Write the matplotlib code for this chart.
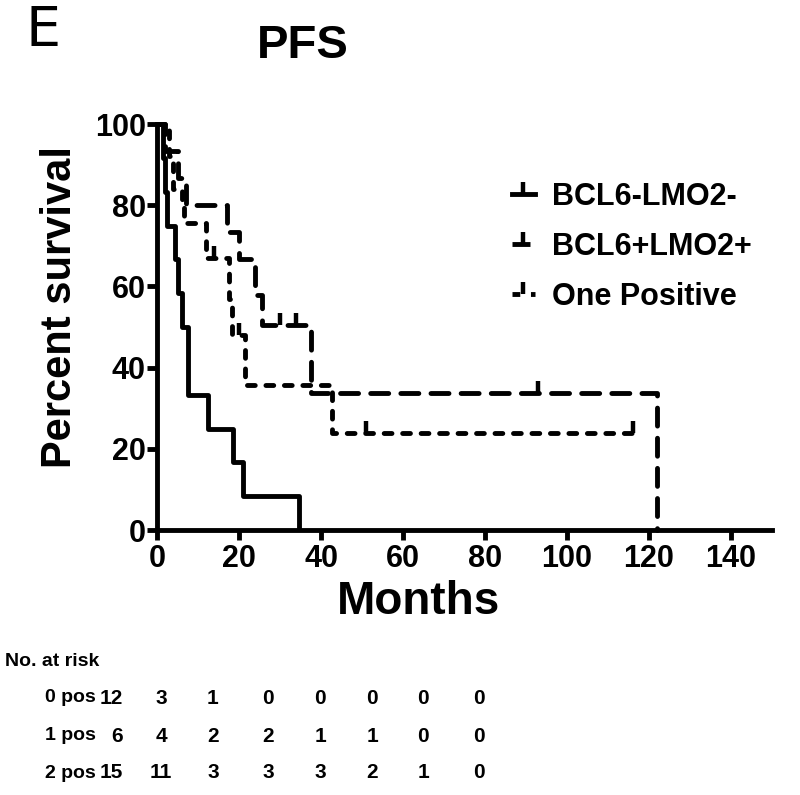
import matplotlib
matplotlib.use("Agg")
import matplotlib.pyplot as plt
from matplotlib.lines import Line2D

# ---------------- data ----------------
series_names = ["BCL6-LMO2-", "BCL6+LMO2+", "One Positive"]

# 0 positive (solid)
t_neg = [0, 1.5, 2, 2.5, 4.4, 5, 6.1, 7.5, 7.6, 12.5, 18.5, 21, 34.6]
s_neg = [100, 91.7, 83.3, 75, 66.7, 58.3, 50, 41.7, 33.3, 25, 16.7, 8.3, 0]

# 2 positive (long dash)
t_pos = [0, 2, 5, 7, 17, 20, 24, 25.5, 37.5, 122]
s_pos = [100, 93.3, 86.7, 80, 73.3, 66.7, 57.8, 50.5, 33.7, 0]
c_pos_t = [30, 34, 93]
c_pos_s = [50.5, 50.5, 33.7]

# one positive (short dash)
t_one = [0, 3, 3.8, 6, 6.5, 12, 17.5, 18.3, 21.5, 42.7, 116]
s_one = [100, 92, 84, 80, 75.6, 67, 57, 48, 35.7, 23.8, 23.8]
c_one_t = [14, 20, 51, 116]
c_one_s = [67, 48, 23.8, 23.8]

x_ticks = [0, 20, 40, 60, 80, 100, 120, 140]
y_ticks = [0, 20, 40, 60, 80, 100]

risk_rows = ["0 pos", "1 pos", "2 pos"]
risk_0 = [12, 3, 1, 0, 0, 0, 0, 0]
risk_1 = [6, 4, 2, 2, 1, 1, 0, 0]
risk_2 = [15, 11, 3, 3, 3, 2, 1, 0]

# ---------------- style ----------------
BOLD = ["Liberation Sans", "DejaVu Sans"]
LW = 3.5
LONG = (3.7, 2.5)
SHORT = (1.6, 2.2)

fig = plt.figure(figsize=(8, 7.95), dpi=100)
fig.patch.set_facecolor("white")
ax = fig.add_axes([157 / 800, 1 - 530 / 795, 615 / 800, (530 - 124) / 795])

def km(t, s, dashes):
    ln, = ax.step(t, s, where="post", color="black", lw=LW, clip_on=False,
                  solid_capstyle="butt", dash_capstyle="round")
    if dashes is not None:
        ln.set_dashes(dashes)
    return ln

km(t_neg, s_neg, None)
km(t_pos, s_pos, LONG)
km(t_one, s_one, SHORT)

for ct, cs in [(c_pos_t, c_pos_s), (c_one_t, c_one_s)]:
    ax.plot(ct, cs, linestyle="none", marker=2, ms=9, mew=3.2, color="black",
            clip_on=False)

ax.set_xlim(0, 150)
ax.set_ylim(0, 100)
ax.set_xticks(x_ticks)
ax.set_yticks(y_ticks)
for sp in ["top", "right"]:
    ax.spines[sp].set_visible(False)
for sp in ["left", "bottom"]:
    ax.spines[sp].set_linewidth(3.5)
ax.tick_params(axis="both", direction="out", length=7, width=3.5, labelsize=22)
ax.tick_params(axis="y", pad=1)
ax.tick_params(axis="x", pad=3)
for lab in ax.get_xticklabels() + ax.get_yticklabels():
    lab.set_fontfamily(BOLD)
    lab.set_fontweight("bold")

ax.set_xlabel("Months", fontsize=33, fontweight="bold", family=BOLD)
ax.xaxis.set_label_coords((418 - 157) / 615, -(602 - 530) / 406)
ax.xaxis.label.set_va("center")
ax.set_ylabel("Percent survival", fontsize=30, fontweight="bold", family=BOLD)
ax.yaxis.set_label_coords(-(157 - 60) / 615, (530 - 307) / 406)
ax.yaxis.label.set_va("center")

handles = [
    Line2D([], [], color="black", lw=LW, marker=2, ms=9, mew=3.2),
    Line2D([], [], color="black", lw=LW, marker=2, ms=9, mew=3.2, dashes=LONG),
    Line2D([], [], color="black", lw=LW, marker=2, ms=9, mew=3.2, dashes=SHORT),
]
leg = fig.legend(handles, series_names, loc="upper left",
                 bbox_to_anchor=(512 / 800, 1 - 182 / 795),
                 bbox_transform=fig.transFigure, frameon=False,
                 handlelength=0.75, handletextpad=0.55, labelspacing=0.65,
                 borderpad=0, borderaxespad=0,
                 prop={"family": BOLD, "weight": "bold", "size": 22})

fig.text(303 / 800, 1 - 46 / 795, "PFS", ha="center", va="center",
         fontsize=34, fontweight="bold", family=BOLD)
fig.text(43 / 800, 1 - 31 / 795, "E", ha="center", va="center",
         fontsize=40, family=["DejaVu Sans"])

# at-risk table
fig.text(5 / 800, 1 - 661 / 795, "No. at risk", ha="left", va="center",
         fontsize=14, fontweight="bold", family=BOLD)
row_y = [698, 736, 773]
col_x = [161, 213, 268, 320, 372, 423, 479]
for name, vals, yy in zip(risk_rows, [risk_0, risk_1, risk_2], row_y):
    yf = 1 - yy / 795
    fig.text(45 / 800, yf, name, ha="left", va="center", fontsize=14,
             fontweight="bold", family=BOLD)
    fig.text(123 / 800, yf, str(vals[0]), ha="right", va="center",
             fontsize=15, fontweight="bold", family=BOLD)
    for v, xx in zip(vals[1:], col_x):
        fig.text(xx / 800, yf, str(v), ha="center", va="center",
                 fontsize=15, fontweight="bold", family=BOLD)

fig.savefig("out.png", dpi=100, facecolor="white")
